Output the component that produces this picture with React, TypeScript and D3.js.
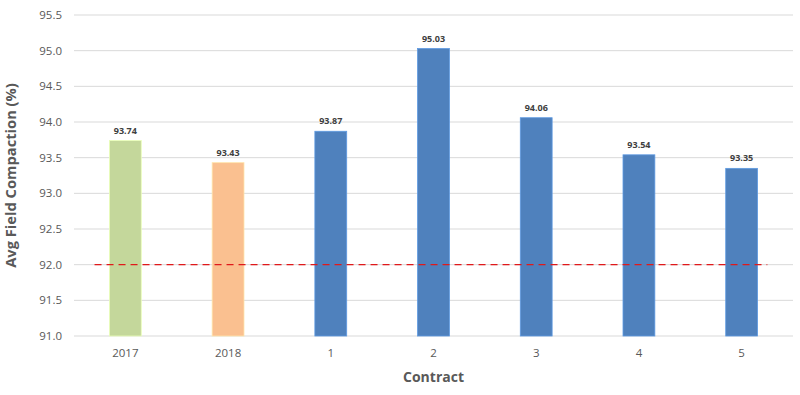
import React from "react";
import * as d3 from "d3";

const categories = ["2017", "2018", "1", "2", "3", "4", "5"];
const values = [93.74, 93.43, 93.87, 95.03, 94.06, 93.54, 93.35];
const barColors = ["#C4D79B", "#FAC090", "#4F81BD", "#4F81BD", "#4F81BD", "#4F81BD", "#4F81BD"];
const yTicks = [91.0, 91.5, 92.0, 92.5, 93.0, 93.5, 94.0, 94.5, 95.0, 95.5];
const targetValue = 92.0;

const W = 800;
const H = 395;
const left = 74;
const right = 793;
const top = 15;
const bottom = 336;

export default function App() {
  const x = d3.scaleBand<string>().domain(categories).range([left, right]).paddingInner(0.69).paddingOuter(0.345);
  const y = d3.scaleLinear().domain([91, 95.5]).range([bottom, top]);
  const font = "'Open Sans', 'Noto Sans', sans-serif";
  const step = x.step();
  return (
    <svg width={W} height={H} style={{ position: "absolute", left: 0, top: 0 }} fontFamily={font}>
      <rect width={W} height={H} fill="#fff" />
      {yTicks.map((t) => (
        <g key={t}>
          <line x1={left} x2={right} y1={y(t)} y2={y(t)} stroke="#D9D9D9" strokeWidth={1} />
          <text x={62} y={y(t)} dy="0.35em" textAnchor="end" fontSize={11.5} fill="#595959">
            {t.toFixed(1)}
          </text>
        </g>
      ))}
      {categories.map((c, i) => (
        <g key={c}>
          <rect
            x={x(c)!}
            y={y(values[i])}
            width={x.bandwidth()}
            height={bottom - y(values[i])}
            fill={barColors[i]}
            stroke={d3.color(barColors[i])!.brighter(0.5).formatHex()}
            strokeWidth={0.8}
          />
          <text x={x(c)! + x.bandwidth() / 2} y={y(values[i]) - 7} textAnchor="middle" fontSize={9} fontWeight="bold" fill="#404040">
            {values[i].toFixed(2)}
          </text>
          <text x={x(c)! + x.bandwidth() / 2} y={bottom + 21} textAnchor="middle" fontSize={11.5} fill="#595959">
            {c}
          </text>
        </g>
      ))}
      <line
        x1={x(categories[0])! + x.bandwidth() / 2 - step * 0.3}
        x2={x(categories[categories.length - 1])! + x.bandwidth() / 2 + step * 0.25}
        y1={y(targetValue)}
        y2={y(targetValue)}
        stroke="#E0191B"
        strokeWidth={1.4}
        strokeDasharray="7,5"
      />
      <text x={(left + right) / 2} y={382} textAnchor="middle" fontSize={14} fontWeight="bold" fill="#595959">
        Contract
      </text>
      <text
        transform={`translate(16,${(top + bottom) / 2}) rotate(-90)`}
        textAnchor="middle"
        fontSize={14.7}
        fontWeight="bold"
        fill="#595959"
      >
        Avg Field Compaction (%)
      </text>
    </svg>
  );
}
